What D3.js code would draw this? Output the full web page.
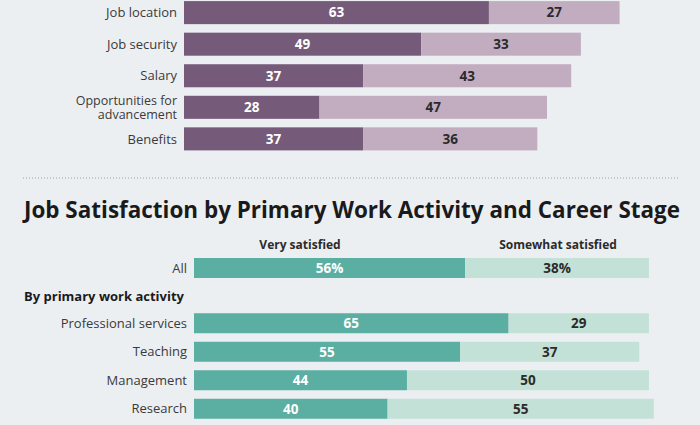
<!DOCTYPE html>
<html><head><meta charset="utf-8">
<script src="https://cdn.jsdelivr.net/npm/d3@7"></script>
<style>
html,body{margin:0;padding:0;background:#eceff2;}
svg{display:block;font-family:"Open Sans","Liberation Sans",sans-serif;}
</style></head>
<body><svg id="chart" width="700" height="425"></svg>
<script>
// Top chart data
const topCategories = ["Job location","Job security","Salary","Opportunities for\nadvancement","Benefits"];
const topDark = [63,49,37,28,37];
const topLight = [27,33,43,47,36];

// Bottom chart data
const title = "Job Satisfaction by Primary Work Activity and Career Stage";
const seriesNames = ["Very satisfied","Somewhat satisfied"];
const allLabel = "All";
const allValues = [56,38];
const groupLabel = "By primary work activity";
const botCategories = ["Professional services","Teaching","Management","Research"];
const botDark = [65,55,44,40];
const botLight = [29,37,50,55];

const svg = d3.select("#chart");
const textColor = "#2b2b2b";
const labelColor = "#3a3a3a";
const pxPerUnit = 4.84;

// ---- Top chart ----
const xTop = d3.scaleLinear().domain([0,100]).range([184,184+100*pxPerUnit]);
const yTop = d3.scaleBand().domain(topCategories).range([-3,154.5]).paddingInner(0.27).paddingOuter(0.13);
const gTop = svg.append("g");
topCategories.forEach((c,i)=>{
  const y = yTop(c), h = yTop.bandwidth();
  gTop.append("rect").attr("x",xTop(0)).attr("y",y).attr("width",xTop(topDark[i])-xTop(0)).attr("height",h).attr("fill","#755a79");
  gTop.append("rect").attr("x",xTop(topDark[i])).attr("y",y).attr("width",xTop(topDark[i]+topLight[i])-xTop(topDark[i])).attr("height",h).attr("fill","#c2adc0");
  gTop.append("text").attr("x",(xTop(0)+xTop(topDark[i]))/2).attr("y",y+h/2).attr("dy","0.36em")
    .attr("text-anchor","middle").attr("font-size",13.5).attr("font-weight",700).attr("fill","#fff").text(topDark[i]);
  gTop.append("text").attr("x",(xTop(topDark[i])+xTop(topDark[i]+topLight[i]))/2).attr("y",y+h/2).attr("dy","0.36em")
    .attr("text-anchor","middle").attr("font-size",13.5).attr("font-weight",700).attr("fill",textColor).text(topLight[i]);
  const lines = c.split("\n");
  const fs = lines.length > 1 ? 12.5 : 13;
  lines.forEach((l,j)=>{
    gTop.append("text").attr("x",177).attr("text-anchor","end").attr("font-size",fs).attr("fill",labelColor)
      .attr("y",y+h/2+(j-(lines.length-1)/2)*13.5).attr("dy","0.36em").text(l);
  });
});

// dotted separator
svg.append("line").attr("x1",23).attr("x2",680).attr("y1",178).attr("y2",178)
  .attr("stroke","#9aa0a6").attr("stroke-width",1.2).attr("stroke-dasharray","1,2");

// title
svg.append("text").attr("x",24).attr("y",218).attr("font-size",23).attr("font-weight",700).attr("fill","#1a1a1a")
  .attr("textLength",656).attr("lengthAdjust","spacingAndGlyphs").text(title);

// ---- Bottom chart ----
const xBot = d3.scaleLinear().domain([0,100]).range([194,194+100*pxPerUnit]);
const barH = 20;

// series headers
svg.append("text").attr("x",300).attr("y",249).attr("text-anchor","middle")
  .attr("font-size",12).attr("font-weight",700).attr("fill",textColor).text(seriesNames[0]);
svg.append("text").attr("x",558).attr("y",249).attr("text-anchor","middle")
  .attr("font-size",12).attr("font-weight",700).attr("fill",textColor).text(seriesNames[1]);

function drawRow(label, d, l, y, pct){
  svg.append("rect").attr("x",xBot(0)).attr("y",y).attr("width",xBot(d)-xBot(0)).attr("height",barH).attr("fill","#5aaea2");
  svg.append("rect").attr("x",xBot(d)).attr("y",y).attr("width",xBot(d+l)-xBot(d)).attr("height",barH).attr("fill","#c3e1d7");
  svg.append("text").attr("x",(xBot(0)+xBot(d))/2).attr("y",y+barH/2).attr("dy","0.36em").attr("text-anchor","middle")
    .attr("font-size",13.5).attr("font-weight",700).attr("fill","#fff").text(d+(pct?"%":""));
  svg.append("text").attr("x",(xBot(d)+xBot(d+l))/2).attr("y",y+barH/2).attr("dy","0.36em").attr("text-anchor","middle")
    .attr("font-size",13.5).attr("font-weight",700).attr("fill",textColor).text(l+(pct?"%":""));
  svg.append("text").attr("x",187).attr("y",y+barH/2).attr("dy","0.36em").attr("text-anchor","end")
    .attr("font-size",13).attr("fill",labelColor).text(label);
}
drawRow(allLabel, allValues[0], allValues[1], 258, true);

svg.append("text").attr("x",24).attr("y",301).attr("font-size",13).attr("font-weight",700).attr("fill","#1a1a1a").text(groupLabel);

const yBot = d3.scaleBand().domain(botCategories).range([309,423]).paddingInner(0.3).paddingOuter(0.15);
botCategories.forEach((c,i)=>{
  drawRow(c, botDark[i], botLight[i], yBot(c)+(yBot.bandwidth()-barH)/2, false);
});
</script></body></html>
